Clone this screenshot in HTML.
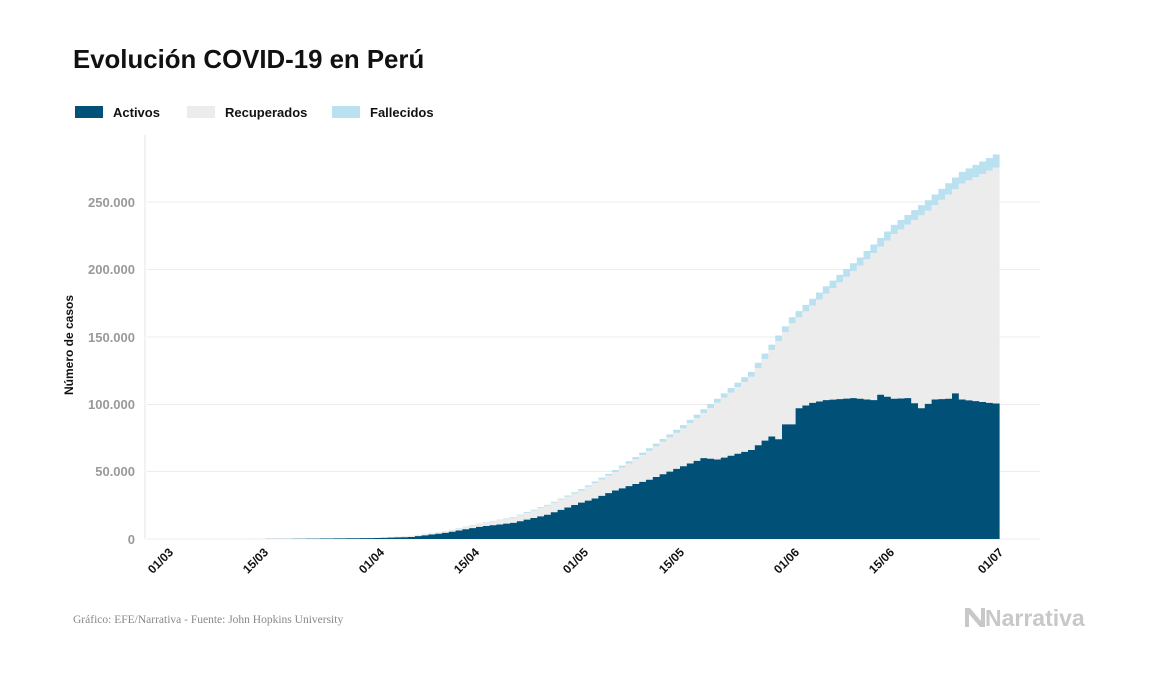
<!DOCTYPE html>
<html><head><meta charset="utf-8"><style>
body{margin:0;width:1157px;height:674px;background:#fff;overflow:hidden;font-family:"Liberation Sans",sans-serif}
</style></head><body>
<svg id="s" width="1157" height="674" xmlns="http://www.w3.org/2000/svg">
<text x="73" y="68" font-size="25.8" font-weight="bold" fill="#111">Evolución COVID-19 en Perú</text>
<rect x="75" y="106" width="28" height="12" fill="#005078"/>
<text x="113" y="117" font-size="13" font-weight="bold" fill="#111">Activos</text>
<rect x="187" y="106" width="28" height="12" fill="#ececec"/>
<text x="225" y="117" font-size="13" font-weight="bold" fill="#111">Recuperados</text>
<rect x="332" y="106" width="28" height="12" fill="#b9e1ef"/>
<text x="370" y="117" font-size="13" font-weight="bold" fill="#111">Fallecidos</text>
<line x1="145" y1="135" x2="145" y2="539" stroke="#e6e6e6"/>
<g stroke="#ececec" stroke-width="1">
<line x1="147" x2="1040" y1="202" y2="202"/><line x1="147" x2="1040" y1="269.5" y2="269.5"/>
<line x1="147" x2="1040" y1="337" y2="337"/><line x1="147" x2="1040" y1="404.5" y2="404.5"/>
<line x1="147" x2="1040" y1="471.5" y2="471.5"/><line x1="147" x2="1040" y1="539" y2="539"/>
</g>
<g font-size="13" font-weight="bold" fill="#999" text-anchor="end">
<text x="135" y="207">250.000</text><text x="135" y="274">200.000</text><text x="135" y="342">150.000</text>
<text x="135" y="409">100.000</text><text x="135" y="476">50.000</text><text x="135" y="544">0</text>
</g>
<text transform="translate(73,345) rotate(-90)" font-size="12" font-weight="bold" fill="#111" text-anchor="middle">Número de casos</text>
<g id="bars"></g>
<g font-size="12" font-weight="bold" fill="#111" text-anchor="end">
<text transform="translate(174,553) rotate(-45)">01/03</text>
<text transform="translate(269,553) rotate(-45)">15/03</text>
<text transform="translate(385,553) rotate(-45)">01/04</text>
<text transform="translate(480,553) rotate(-45)">15/04</text>
<text transform="translate(589,553) rotate(-45)">01/05</text>
<text transform="translate(685,553) rotate(-45)">15/05</text>
<text transform="translate(800,553) rotate(-45)">01/06</text>
<text transform="translate(895,553) rotate(-45)">15/06</text>
<text transform="translate(1004,553) rotate(-45)">01/07</text>
</g>
<text x="73" y="623" font-family="Liberation Serif,serif" font-size="11.5" fill="#888">Gráfico: EFE/Narrativa - Fuente: John Hopkins University</text>
<path d="M965 608 h5 l11 13 v-13 h4 v19 h-5 l-11 -13 v13 h-4z" fill="#c8c8c8"/>
<text x="985" y="626" font-size="23" font-weight="bold" fill="#c8c8c8">Narrativa</text>
</svg>
<script>
function interp(pts,d){for(let i=0;i<pts.length-1;i++){if(d>=pts[i][0]&&d<=pts[i+1][0]){const a=pts[i],b=pts[i+1];return a[1]+(b[1]-a[1])*(d-a[0])/(b[0]-a[0]);}}return d<pts[0][0]?pts[0][1]:pts[pts.length-1][1];}
const tot=[[0,0],[5,0],[15,70],[20,300],[25,600],[30,1000],[35,2500],[40,5900],[45,11475],[50,16325],[55,25331],[60,36976],[65,51189],[70,67307],[75,84495],[80,104020],[85,123979],[91,164476],[96,187400],[101,208823],[106,232992],[111,251338],[116,272364],[121,285213]];
const dth=[[0,0],[20,5],[30,40],[45,254],[60,1051],[75,2431],[91,4506],[106,6860],[121,9677]];
const act=[[0,0],[5,0],[15,60],[20,250],[25,500],[30,700],[35,1500],[40,4500],[45,9000],[50,12000],[55,18000],[60,27000],[62,30000],[65,36000],[70,44000],[75,54000],[78,60000],[80,59000],[85,66000],[87,73000],[88,76000],[89,74000],[90,85000],[91,85000],[92,97000],[94,101000],[96,103000],[100,104500],[103,103000],[104,107000],[106,104000],[108,104500],[110,97000],[112,103500],[114,104000],[115,108000],[116,103500],[120,101000],[121,100500]];
const k=337/250000,y0=539;
const X=d=>(170+6.8*d).toFixed(2);
let yT=[],yR=[],yA=[];
for(let d=0;d<122;d++){
 const T=Math.round(interp(tot,d)),D=Math.min(interp(dth,d),T),A=Math.min(interp(act,d),T-D);
 yT.push(y0-T*k);yR.push(y0-(T-D)*k);yA.push(y0-A*k);
}
function step(arr){let s='';for(let d=0;d<arr.length;d++){s+=`L${X(d)} ${arr[d].toFixed(2)}L${X(d+1)} ${arr[d].toFixed(2)}`;}return s;}
function area(top,bot){let s='M'+X(0)+' '+bot[0].toFixed(2)+step(top);
 for(let d=bot.length-1;d>=0;d--){s+=`L${X(d+1)} ${bot[d].toFixed(2)}L${X(d)} ${bot[d].toFixed(2)}`;}return s+'Z';}
const base=yT.map(()=>y0);
let h=`<path d="${area(yT,yR)}" fill="#b9e1ef"/>`;
h+=`<path d="${area(yR,yA)}" fill="#ececec"/>`;
h+=`<path d="${area(yA,base)}" fill="#005078"/>`;
document.getElementById('bars').innerHTML=h;
</script>
</body></html>
